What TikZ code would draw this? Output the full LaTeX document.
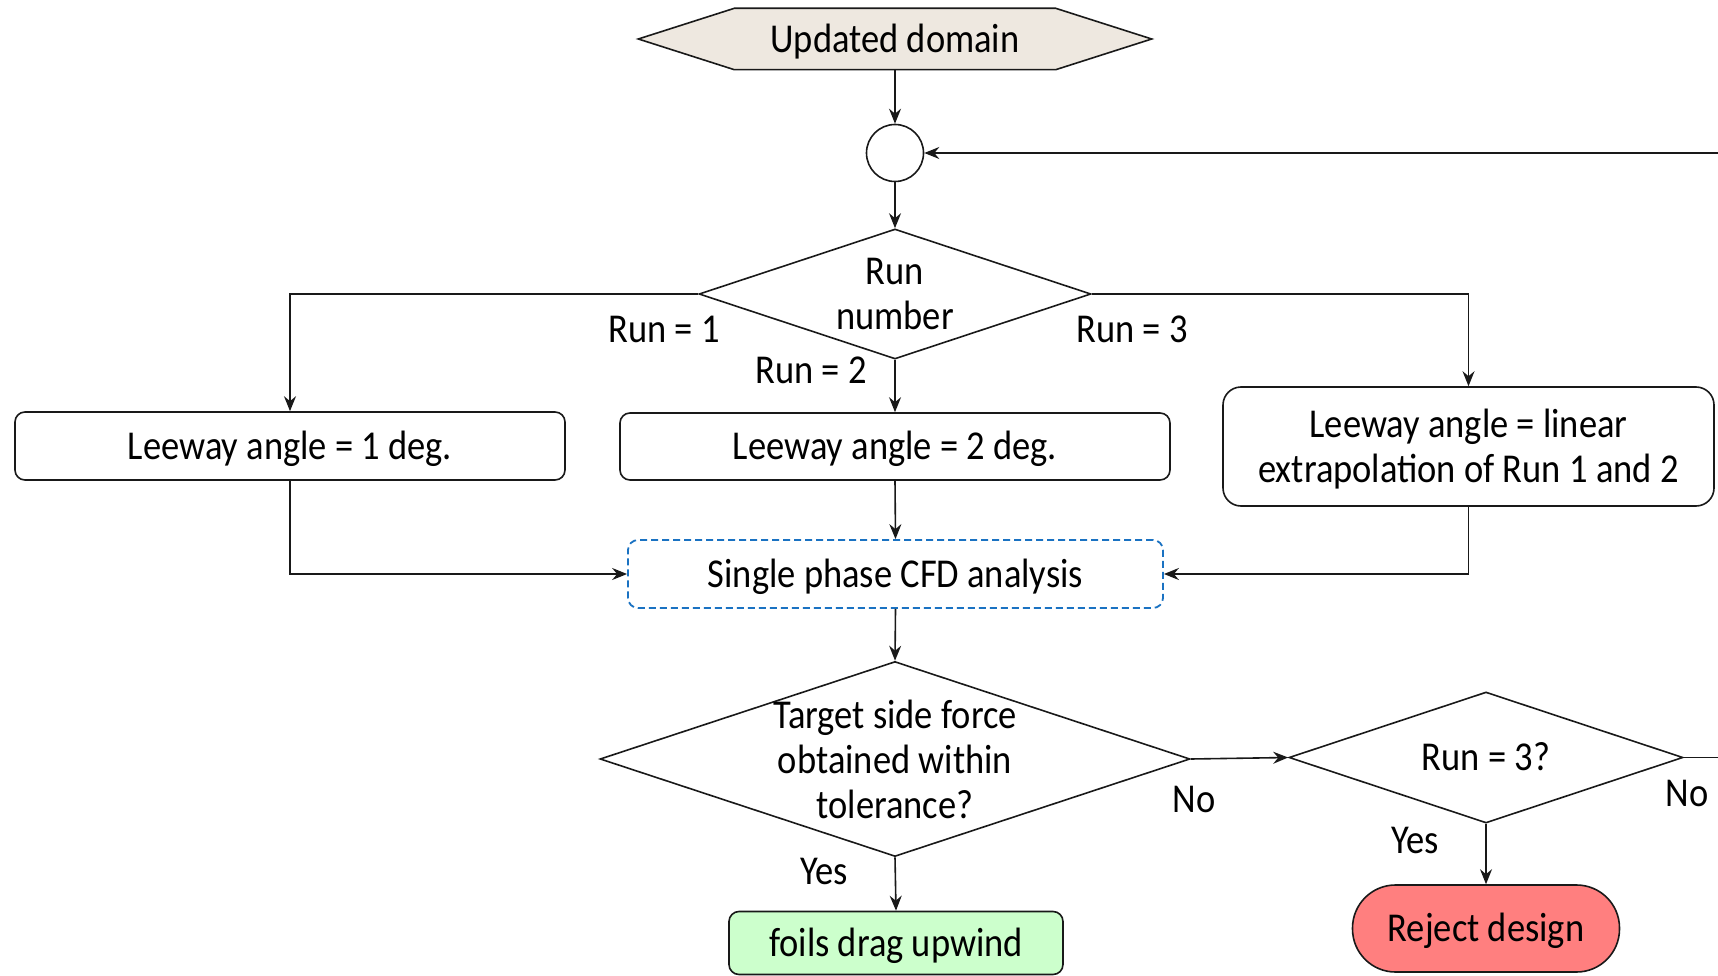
\documentclass[tikz,border=0pt]{standalone}
\usepackage{fontspec}
\setmainfont{Carlito}[FakeStretch=0.89]
\usetikzlibrary{shapes.geometric,arrows.meta}
\definecolor{hexfill}{HTML}{EEE8E0}
\definecolor{cfdblue}{HTML}{1A72C2}
\definecolor{okgreen}{HTML}{CCFFCC}
\definecolor{rejred}{HTML}{FF7F7F}
\tikzset{
  every node/.style={font=\fontsize{41}{45}\selectfont, align=center, inner sep=0pt},
  one/.style={text height=26.4pt, text depth=0pt},
  ln/.style={line width=1.6pt, draw=black!90},
  arr/.style={ln, -{Stealth[length=15pt,width=12pt,inset=5pt]}},
  rbox/.style={ln, rounded corners=10pt, fill=white},
  dia/.style={ln, diamond, fill=white},
}
\begin{document}
\begin{tikzpicture}[x=1pt,y=-1pt]
\useasboundingbox (0,0) rectangle (1718,976);

% hexagon
\node[minimum width=513pt, minimum height=61pt] (hex) at (895,39) {};
\draw[ln, fill=hexfill] (hex.west) -- ([xshift=96pt]hex.north west) -- ([xshift=-96pt]hex.north east)
  -- (hex.east) -- ([xshift=-96pt]hex.south east) -- ([xshift=96pt]hex.south west) -- cycle;
\node[one] at (hex) {Updated domain};

\node[ln, circle, minimum size=57pt] (circ) at (895,153) {};

\node[dia, minimum width=392pt, minimum height=130pt] (d1) at (895,294) {};
\node at (d1) {Run\\number};

\node[rbox, one, minimum width=550pt, minimum height=68pt] (b1) at (290,446) {Leeway angle = 1 deg.};
\node[rbox, one, minimum width=550pt, minimum height=67pt] (b2) at (895,446.5) {Leeway angle = 2 deg.};
\node[rbox, rounded corners=18pt, minimum width=491pt, minimum height=119pt] (b3) at (1468.5,446.5) {};
\node at ([yshift=-3pt]b3.center) {Leeway angle = linear\\extrapolation of Run 1 and 2};

\node[one, line width=1.8pt, draw=cfdblue, dash pattern=on 7pt off 4pt, rounded corners=10pt, fill=white,
  minimum width=535pt, minimum height=68pt] (cfd) at (895.5,574) {Single phase CFD analysis};

\node[dia, minimum width=590pt, minimum height=195pt] (d2) at (895,759) {};
\node at (d2) {Target side force\\obtained within\\tolerance?};

\node[dia, minimum width=394pt, minimum height=131pt] (d3) at (1486,757.5) {};
\node[one] at (d3) {Run = 3?};

\node[rbox, one, fill=okgreen, minimum width=334pt, minimum height=63pt] (foils) at (896,943) {foils drag upwind};
\node[ln, one, fill=rejred, rounded corners=43pt, minimum width=267pt, minimum height=87pt] (rej) at (1486,928.5) {Reject design};

\coordinate (r1) at (1718,153);
\coordinate (r2) at (1718,757.5);

% connectors
\draw[arr] (hex.south) -- (circ.north);
\draw[arr] (circ.south) -- (d1.north);
\draw[arr] (r1) -- (circ.east);
\draw[arr] (d1.west) -| (b1.north);
\draw[arr] (d1.south) -- (b2.north);
\draw[arr] (d1.east) -| (b3.north);
\draw[arr] (b1.south) |- (cfd.west);
\draw[arr] (b2.south) -- (cfd.north);
\draw[arr] (b3.south) |- (cfd.east);
\draw[arr] (cfd.south) -- (d2.north);
\draw[arr] (d2.south) -- (foils.north);
\draw[arr] (d2.east) -- (d3.west);
\draw[arr] (d3.south) -- (rej.north);
\draw[ln] (d3.east) -- (r2);

% labels
\node[one] (l1) at (664,329) {Run = 1};
\node[one] (l2) at (811,370) {Run = 2};
\node[one] (l3) at (1132,329) {Run = 3};
\node[one] (l4) at (1194,799) {No};
\node[one] (l5) at (824,871) {Yes};
\node[one] (l6) at (1687,793) {No};
\node[one] (l7) at (1415,840) {Yes};
\end{tikzpicture}
\end{document}
